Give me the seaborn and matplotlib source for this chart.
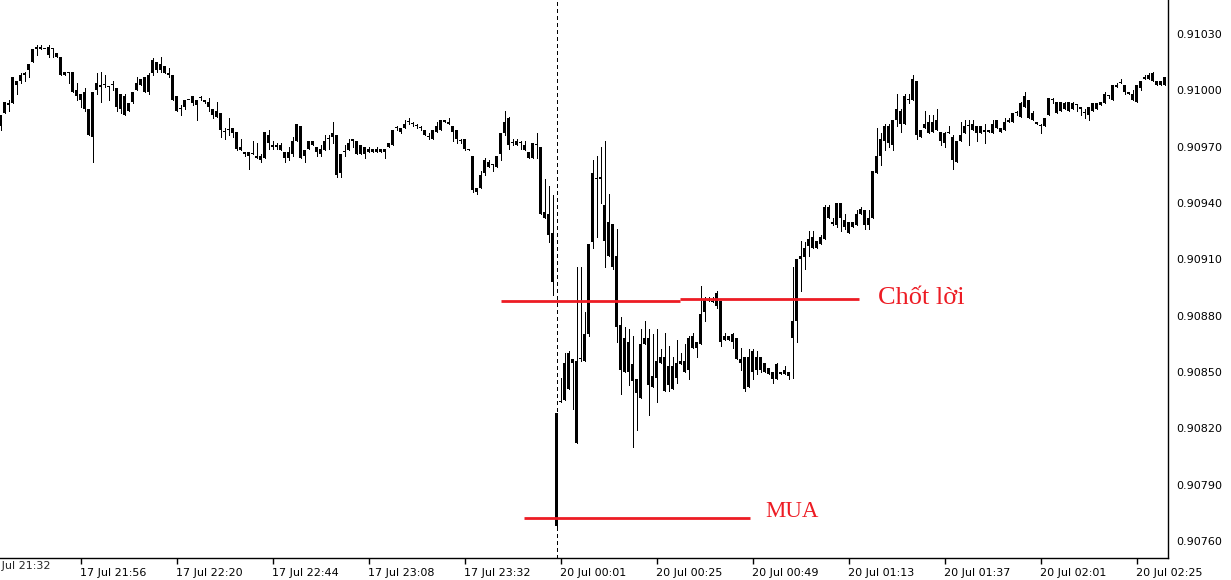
import numpy as np
import matplotlib
matplotlib.use("Agg")
import matplotlib.pyplot as plt
import seaborn as sns

# 1-minute candles, prices in 1e-5 steps above BASE (0.90981 -> 981)
BASE = 0.90000

opens = [
    981, 988, 993, 993, 1005, 1005, 1008, 1011, 1015, 1022, 1023, 1022, 1019, 1022, 1020, 1018, 1008, 1009, 1010, 997,
    998, 999, 990, 975, 1000, 1003, 1003, 1002, 1003, 1001, 990, 997, 989, 994, 1000, 1003, 1007, 999, 1009, 1015,
    1011, 1013, 1009, 1008, 997, 990, 991, 995, 993, 995, 996, 995, 994, 990, 986, 988, 978, 979, 980, 978,
    970, 967, 965, 966, 965, 963, 964, 976, 971, 970, 971, 967, 964, 966, 973, 981, 965, 969, 973, 970,
    966, 968, 974, 975, 976, 956, 967, 968, 973, 973, 966, 970, 967, 969, 967, 969, 967, 970, 971, 980,
    980, 980, 983, 982, 981, 980, 979, 975, 974, 978, 979, 984, 983, 981, 979, 973, 974, 969, 965, 948,
    948, 956, 962, 960, 959, 966, 977, 985, 972, 971, 972, 971, 967, 964, 971, 970, 935, 934, 924, 828,
    834, 835, 860, 855, 856, 857, 856, 870, 919, 953, 953, 939, 912, 929, 912, 875, 850, 866, 854, 846,
    836, 865, 868, 842, 847, 855, 858, 843, 853, 847, 854, 856, 851, 863, 866, 865, 882, 888, 888, 885,
    888, 867, 869, 866, 868, 857, 858, 842, 861, 851, 858, 850, 852, 850, 846, 850, 849, 850, 868, 877,
    910, 911, 917, 922, 916, 918, 921, 938, 930, 928, 940, 931, 924, 930, 928, 934, 936, 928, 932, 956,
    965, 973, 981, 971, 984, 989, 982, 995, 995, 1005, 975, 980, 983, 978, 984, 978, 972, 977, 975, 962,
    973, 977, 981, 979, 981, 977, 979, 978, 977, 980, 980, 979, 983, 983, 988, 986, 991, 995, 988, 983,
    981, 981, 987, 995, 994, 989, 993, 989, 993, 992, 991, 988, 987, 989, 993, 992, 993, 997, 995, 1003,
    1004, 1003, 999, 998, 994, 1001, 1006, 1006, 1009, 1005, 1003, 1003,
]
highs = [
    987, 994, 995, 1007, 1005, 1009, 1010, 1014, 1022, 1024, 1024, 1022, 1024, 1022, 1020, 1018, 1010, 1009, 1010, 1004,
    998, 1001, 990, 999, 1009, 1010, 1008, 1002, 1005, 1001, 998, 998, 993, 999, 1007, 1006, 1007, 1009, 1017, 1015,
    1018, 1013, 1012, 1008, 997, 992, 995, 995, 997, 995, 997, 995, 996, 990, 994, 988, 980, 985, 980, 978,
    974, 967, 967, 973, 972, 966, 978, 979, 973, 972, 972, 967, 970, 975, 982, 981, 968, 973, 973, 970,
    971, 976, 976, 983, 976, 966, 971, 974, 974, 973, 971, 970, 970, 969, 970, 969, 969, 972, 979, 981,
    980, 984, 985, 983, 982, 981, 979, 977, 979, 983, 984, 984, 985, 981, 979, 974, 974, 969, 965, 948,
    957, 964, 963, 960, 965, 977, 989, 986, 974, 974, 973, 973, 967, 972, 977, 970, 953, 949, 944, 828,
    847, 860, 861, 857, 906, 906, 882, 918, 963, 965, 970, 973, 945, 929, 926, 879, 874, 873, 869, 846,
    873, 877, 873, 870, 873, 862, 871, 864, 858, 867, 860, 865, 869, 871, 866, 896, 890, 890, 890, 893,
    888, 871, 869, 871, 868, 863, 858, 862, 862, 861, 858, 855, 852, 850, 855, 850, 853, 850, 906, 910,
    920, 919, 925, 925, 920, 923, 939, 939, 932, 940, 940, 934, 930, 930, 936, 938, 936, 936, 957, 980,
    977, 982, 982, 984, 998, 990, 998, 998, 1008, 1005, 979, 989, 987, 987, 990, 978, 978, 981, 976, 973,
    983, 984, 984, 984, 981, 981, 982, 979, 984, 984, 980, 985, 985, 988, 989, 994, 999, 995, 989, 983,
    982, 985, 996, 996, 994, 994, 994, 994, 994, 992, 991, 990, 991, 993, 993, 994, 999, 997, 1003, 1004,
    1006, 1003, 999, 1000, 1003, 1005, 1008, 1009, 1010, 1005, 1005, 1007,
]
lows = [
    979, 988, 989, 993, 998, 1004, 1005, 1007, 1015, 1019, 1022, 1022, 1018, 1018, 1018, 1008, 1008, 1004, 999, 995,
    991, 989, 976, 962, 998, 994, 1002, 995, 1000, 989, 988, 987, 989, 993, 1000, 1003, 999, 998, 1008, 1010,
    1010, 1009, 1007, 995, 989, 987, 990, 995, 992, 984, 995, 993, 989, 985, 986, 975, 974, 976, 975, 968,
    968, 965, 958, 966, 964, 962, 964, 969, 969, 969, 968, 962, 963, 965, 973, 964, 962, 969, 971, 965,
    965, 968, 969, 972, 954, 954, 965, 968, 970, 966, 966, 964, 967, 967, 967, 967, 964, 970, 971, 979,
    977, 980, 982, 981, 980, 979, 976, 974, 974, 978, 979, 983, 982, 973, 972, 972, 968, 968, 946, 945,
    948, 955, 959, 957, 959, 963, 976, 969, 971, 971, 969, 968, 964, 964, 964, 934, 932, 919, 891, 766,
    834, 835, 841, 830, 812, 856, 856, 869, 916, 922, 940, 906, 912, 905, 866, 838, 850, 843, 810, 819,
    836, 865, 827, 842, 834, 855, 840, 840, 841, 844, 854, 850, 846, 863, 858, 865, 877, 888, 887, 884,
    864, 867, 867, 863, 857, 851, 840, 842, 846, 849, 850, 850, 849, 844, 846, 849, 849, 846, 847, 866,
    893, 905, 912, 916, 916, 918, 921, 932, 928, 927, 925, 926, 924, 927, 928, 934, 926, 926, 932, 956,
    960, 968, 970, 968, 981, 978, 982, 993, 995, 974, 975, 980, 977, 978, 979, 971, 970, 977, 958, 962,
    973, 977, 971, 979, 973, 977, 972, 978, 977, 980, 978, 979, 983, 983, 987, 986, 991, 985, 984, 982,
    977, 981, 987, 993, 988, 989, 990, 989, 990, 989, 987, 985, 984, 989, 990, 992, 993, 996, 995, 1002,
    1004, 998, 998, 995, 994, 1000, 1006, 1006, 1005, 1003, 1003, 1003,
]
closes = [
    987, 994, 992, 1007, 1003, 1008, 1009, 1014, 1022, 1023, 1022, 1022, 1023, 1022, 1018, 1008, 1010, 1009, 999, 1000,
    995, 990, 976, 999, 1004, 1002, 1003, 1002, 1003, 991, 998, 987, 993, 999, 1004, 1006, 999, 1008, 1016, 1011,
    1014, 1009, 1008, 995, 989, 990, 995, 995, 997, 992, 996, 994, 991, 987, 989, 979, 978, 979, 977, 969,
    968, 966, 967, 966, 964, 965, 978, 972, 970, 971, 968, 964, 967, 973, 982, 964, 968, 973, 971, 967,
    969, 973, 974, 977, 955, 966, 967, 972, 974, 966, 971, 966, 969, 967, 969, 967, 969, 972, 979, 980,
    978, 982, 983, 982, 981, 980, 976, 975, 979, 981, 984, 983, 982, 978, 974, 973, 969, 968, 947, 946,
    955, 963, 959, 960, 965, 977, 983, 971, 972, 973, 972, 968, 964, 972, 971, 934, 932, 923, 898, 768,
    834, 855, 841, 857, 812, 857, 870, 918, 956, 953, 954, 920, 930, 906, 874, 851, 868, 850, 845, 839,
    865, 868, 843, 848, 856, 858, 840, 853, 841, 855, 856, 850, 868, 869, 863, 881, 889, 888, 887, 892,
    866, 869, 867, 870, 857, 855, 841, 858, 850, 858, 851, 855, 849, 846, 854, 849, 851, 848, 877, 910,
    912, 916, 921, 916, 920, 922, 938, 932, 929, 940, 932, 927, 930, 927, 934, 937, 928, 932, 957, 965,
    974, 981, 972, 984, 990, 982, 997, 995, 1006, 976, 979, 982, 977, 983, 979, 973, 977, 978, 963, 973,
    976, 981, 981, 982, 977, 981, 978, 979, 982, 984, 978, 983, 984, 988, 988, 993, 997, 985, 984, 982,
    981, 985, 996, 995, 988, 994, 990, 994, 990, 992, 990, 988, 991, 993, 990, 994, 998, 997, 1003, 1002,
    1004, 999, 998, 995, 1003, 1005, 1007, 1008, 1005, 1003, 1005, 1007,
]

price_ticks = [0.90760, 0.90790, 0.90820, 0.90850, 0.90880, 0.90910,
               0.90940, 0.90970, 0.91000, 0.91030]
time_labels = ["17 Jul 21:32", "17 Jul 21:56", "17 Jul 22:20", "17 Jul 22:44",
               "17 Jul 23:08", "17 Jul 23:32", "20 Jul 00:01", "20 Jul 00:25",
               "20 Jul 00:49", "20 Jul 01:13", "20 Jul 01:37", "20 Jul 02:01",
               "20 Jul 02:25"]
first_label_bar = -4      # bar index of the first time label
label_every = 24          # bars between time labels
week_open_bar = 139       # first bar of Monday 20 Jul

# hand-drawn levels: (start bar, end bar, price)
take_profit_segments = [(125, 169.75, 0.90888), (169.75, 214.5, 0.90889)]
buy_segment = (130.75, 187.25, 0.90772)
take_profit_text = (219.25, 0.90886, "Chốt lời")
buy_text = (191.25, 0.90773, "MUA")

RED = "#ed1c24"

sns.set_theme(style="white")
plt.rcParams["font.family"] = ["DejaVu Sans"]

o = BASE + np.array(opens) * 1e-5
h = BASE + np.array(highs) * 1e-5
l = BASE + np.array(lows) * 1e-5
c = BASE + np.array(closes) * 1e-5
x = np.arange(len(o))

fig = plt.figure(figsize=(12.31, 5.80), dpi=100)
ax = fig.add_axes([0, 22 / 580, 1168 / 1231, 558 / 580])

# candles: 1px wick + 3px solid body, drawn crisp like the terminal
ax.vlines(x, l, h, color="black", linewidth=0.72, antialiased=False)
body_low = np.minimum(o, c)
body_h = np.maximum(np.abs(c - o), 0.55e-5)
ax.bar(x, body_h, bottom=body_low, width=0.75, color="black", linewidth=0,
       antialiased=False)

ax.axvline(week_open_bar, color="black", linewidth=0.72, linestyle=(0, (4, 3)),
           antialiased=False)

for x0, x1, lvl in take_profit_segments:
    ax.hlines(lvl, x0, x1, color=RED, linewidth=2)
ax.hlines(buy_segment[2], buy_segment[0], buy_segment[1], color=RED, linewidth=2)

ax.text(take_profit_text[0], take_profit_text[1], take_profit_text[2], color=RED,
        fontsize=19, family="Liberation Serif", ha="left", va="baseline")
ax.text(buy_text[0], buy_text[1], buy_text[2], color=RED,
        fontsize=16.5, family="Liberation Serif", ha="left", va="baseline")

# a quarter-bar shift puts each 4px slot on whole pixels
ax.set_xlim(-0.125, len(o) - 0.125)
ax.set_ylim(0.907509, 0.910481)

# price axis on the right
ax.yaxis.tick_right()
ax.set_yticks(price_ticks)
ax.set_yticklabels([f"{p:.5f}" for p in price_ticks])

# time axis: labels start at their tick
tick_bars = [first_label_bar + label_every * k for k in range(len(time_labels))]
shown = [(b, t) for b, t in zip(tick_bars, time_labels) if 0 <= b <= len(o)]
ax.set_xticks([b for b, _ in shown])
ax.set_xticklabels([t for _, t in shown], ha="left")
for b, t in zip(tick_bars, time_labels):
    if b < 0:
        ax.text(b, -0.006, t, transform=ax.get_xaxis_transform(), fontsize=8,
                ha="left", va="top", clip_on=False)

ax.tick_params(axis="both", which="major", direction="out", length=4, width=1,
               color="black", labelsize=8, labelcolor="black", pad=2,
               bottom=True, right=True, left=False)
ax.tick_params(axis="x", pad=3)

sns.despine(ax=ax, top=True, left=True, right=False, bottom=False)
for side in ("right", "bottom"):
    ax.spines[side].set_color("black")
    ax.spines[side].set_linewidth(1)

fig.savefig("out.png", dpi=100, facecolor="white")
